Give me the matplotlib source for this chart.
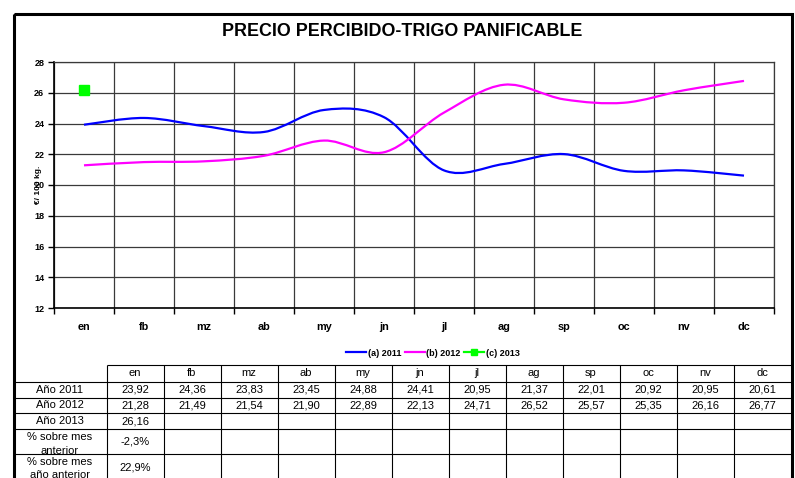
import matplotlib
matplotlib.use("Agg")
import matplotlib.pyplot as plt
from matplotlib.path import Path
from matplotlib.patches import PathPatch, Rectangle
from matplotlib.lines import Line2D

plt.rcParams["font.family"] = ["Liberation Sans", "DejaVu Sans"]

# ── Data ─────────────────────────────────────────────────────────────
months = ["en", "fb", "mz", "ab", "my", "jn", "jl", "ag", "sp", "oc", "nv", "dc"]
precio_2011 = [23.92, 24.36, 23.83, 23.45, 24.88, 24.41, 20.95, 21.37, 22.01, 20.92, 20.95, 20.61]
precio_2012 = [21.28, 21.49, 21.54, 21.90, 22.89, 22.13, 24.71, 26.52, 25.57, 25.35, 26.16, 26.77]
precio_2013 = [26.16]
pct_mes_anterior = ["-2,3%"]
pct_mes_ano_anterior = ["22,9%"]
y_ticks = [12, 14, 16, 18, 20, 22, 24, 26, 28]

W, H = 795, 478


def smooth_path(xs, ys, t=1 / 6):
    """Excel-like smoothed line as cubic Bezier segments through the points."""
    n = len(xs)
    verts = [(xs[0], ys[0])]
    codes = [Path.MOVETO]
    for i in range(n - 1):
        a = i - 1 if i > 0 else i
        b = i + 2 if i + 2 < n else i + 1
        c1 = (xs[i] + (xs[i + 1] - xs[a]) * t, ys[i] + (ys[i + 1] - ys[a]) * t)
        c2 = (xs[i + 1] - (xs[b] - xs[i]) * t, ys[i + 1] - (ys[b] - ys[i]) * t)
        verts += [c1, c2, (xs[i + 1], ys[i + 1])]
        codes += [Path.CURVE4] * 3
    return Path(verts, codes)


fig = plt.figure(figsize=(W / 100, H / 100), dpi=100)

# outer frame (bottom runs off the picture)
frame_ax = fig.add_axes([0, 0, 1, 1])
frame_ax.set_xlim(0, W)
frame_ax.set_ylim(H, 0)
frame_ax.axis("off")
frame_ax.add_patch(Rectangle((13.5, 14), 778, 500, fill=False, lw=2.2, ec="black"))

fig.text(402 / W, 1 - 31 / H, "PRECIO PERCIBIDO-TRIGO PANIFICABLE",
         ha="center", va="center", fontsize=12.9, fontweight="bold")

# ── Chart ────────────────────────────────────────────────────────────
ax = fig.add_axes([54 / W, 1 - 308 / H, 720 / W, 246 / H])
x = list(range(len(months)))
ax.set_xlim(-0.5, len(months) - 0.5)
ax.set_ylim(12, 28)

grid_c = "#3a3a3a"
ax.set_yticks(y_ticks)
ax.set_yticklabels([str(v) for v in y_ticks], fontsize=6.5, fontweight="bold")
ax.set_xticks([i - 0.5 for i in range(len(months) + 1)])
ax.set_xticklabels([])
ax.set_xticks(x, minor=True)
ax.set_xticklabels(months, minor=True, fontsize=7.8, fontweight="bold")
ax.tick_params(axis="x", which="minor", length=0, pad=10)
ax.tick_params(axis="x", which="major", length=4, width=1, direction="out")
ax.tick_params(axis="y", length=4, width=1, direction="out", pad=3)
ax.grid(True, which="major", color=grid_c, lw=0.9)
for side in ["top", "right"]:
    ax.spines[side].set_color(grid_c)
    ax.spines[side].set_linewidth(0.9)
for side in ["left", "bottom"]:
    ax.spines[side].set_linewidth(1.2)

ax.add_patch(PathPatch(smooth_path(x, precio_2011), fill=False, ec="#0000FF", lw=1.6, zorder=3))
ax.add_patch(PathPatch(smooth_path(x, precio_2012), fill=False, ec="#FF00FF", lw=1.6, zorder=3))
ax.plot(x[:len(precio_2013)], precio_2013, color="#00FF00", marker="s", markersize=7.5,
        lw=1.6, zorder=4)

fig.text(38 / W, 1 - 185 / H, "€/ 100 kg.", rotation=90, ha="center", va="center",
         fontsize=6, fontweight="bold")

handles = [
    Line2D([], [], color="#0000FF", lw=1.6),
    Line2D([], [], color="#FF00FF", lw=1.6),
    Line2D([], [], color="#00FF00", lw=1.6, marker="s", markersize=5),
]
fig.legend(handles, ["(a) 2011", "(b) 2012", "(c) 2013"], ncol=3, frameon=False,
           loc="center", bbox_to_anchor=(433 / W, 1 - 353 / H),
           prop={"size": 6.5, "weight": "bold"}, handlelength=2.2, handletextpad=0.2,
           columnspacing=0.4)

# ── Table (pixel coordinates) ───────────────────────────────────────
col0, col_w = 106.5, 57.0
col_edges = [col0 + i * col_w for i in range(len(months) + 1)]
row_edges = [365, 382, 398, 413, 429, 454, 500]
label_x = 60

tbl = frame_ax
lw_t = 0.8
# header row
tbl.hlines(row_edges[0], col_edges[0], col_edges[-1], color="black", lw=lw_t)
for r in row_edges[1:-1]:
    tbl.hlines(r, 13.5, col_edges[-1], color="black", lw=lw_t)
tbl.vlines(col_edges[0], row_edges[0], H, color="black", lw=lw_t)
for c in col_edges[1:-1]:
    tbl.vlines(c, row_edges[0], H, color="black", lw=lw_t)

fs = 8
for i, m in enumerate(months):
    cx = (col_edges[i] + col_edges[i + 1]) / 2
    tbl.text(cx, (row_edges[0] + row_edges[1]) / 2, m, ha="center", va="center", fontsize=fs)
    tbl.text(cx, (row_edges[1] + row_edges[2]) / 2, f"{precio_2011[i]:.2f}".replace(".", ","),
             ha="center", va="center", fontsize=fs)
    tbl.text(cx, (row_edges[2] + row_edges[3]) / 2, f"{precio_2012[i]:.2f}".replace(".", ","),
             ha="center", va="center", fontsize=fs)
for i, v in enumerate(precio_2013):
    cx = (col_edges[i] + col_edges[i + 1]) / 2
    tbl.text(cx, (row_edges[3] + row_edges[4]) / 2, f"{v:.2f}".replace(".", ","),
             ha="center", va="center", fontsize=fs)
for i, v in enumerate(pct_mes_anterior):
    cx = (col_edges[i] + col_edges[i + 1]) / 2
    tbl.text(cx, (row_edges[4] + row_edges[5]) / 2, v, ha="center", va="center", fontsize=fs)
for i, v in enumerate(pct_mes_ano_anterior):
    cx = (col_edges[i] + col_edges[i + 1]) / 2
    tbl.text(cx, 468, v, ha="center", va="center", fontsize=fs)

row_labels = ["Año 2011", "Año 2012", "Año 2013"]
for k, lab in enumerate(row_labels):
    tbl.text(label_x, (row_edges[k + 1] + row_edges[k + 2]) / 2, lab,
             ha="center", va="center", fontsize=fs)

# wrapped labels, clipped by their cells
for (top, bot, off), lines in [((row_edges[4], row_edges[5], 8.5), ["% sobre mes", "anterior"]),
                               ((row_edges[5], row_edges[6], 8), ["% sobre mes", "año anterior"])]:
    clip = Rectangle((14, top), col0 - 14, bot - top - 1, transform=tbl.transData)
    for j, line in enumerate(lines):
        t = tbl.text(label_x, top + off + j * 13.5, line, ha="center", va="center", fontsize=fs)
        t.set_clip_path(clip)

fig.savefig("out.png", dpi=100)
